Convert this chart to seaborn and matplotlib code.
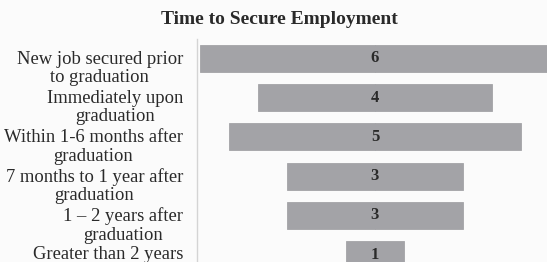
import matplotlib
matplotlib.use("Agg")
import matplotlib.pyplot as plt
import matplotlib.transforms as mtransforms
import seaborn as sns
import pandas as pd

categories = [
    "New job secured prior\nto graduation",
    "Immediately upon\ngraduation",
    "Within 1-6 months after\ngraduation",
    "7 months to 1 year after\ngraduation",
    "1 \u2013 2 years after\ngraduation",
    "Greater than 2 years",
]
values = [6, 4, 5, 3, 3, 1]
title = "Time to Secure Employment"

sns.set_theme(style="white")
plt.rcParams["font.family"] = ["Liberation Serif", "DejaVu Serif"]

bar_color = "#a3a3a7"
text_color = "#2a2a2a"
bg = "#fbfbfb"

df = pd.DataFrame({"cat": categories, "v": values})
df["right"] = df["v"] / 2
df["left"] = -df["v"] / 2

fig = plt.figure(figsize=(5.47, 2.62), dpi=100, facecolor=bg)
ax = fig.add_axes([0.360, -0.047, 0.651, 0.899])
ax.set_facecolor(bg)

for col in ["right", "left"]:
    sns.barplot(data=df, x=col, y="cat", orient="h", color=bar_color,
                width=0.69, saturation=1, linewidth=0.6, edgecolor=bar_color,
                ax=ax)

ax.set_xlim(-3.05, 3.05)
ax.set_ylim(5.5, -0.5)
ax.set_xlabel("")
ax.set_ylabel("")
ax.set_xticks([])
for s in ["top", "right", "bottom"]:
    ax.spines[s].set_visible(False)
ax.spines["left"].set_color("#d4d4d4")
ax.spines["left"].set_linewidth(1.0)
ax.tick_params(axis="y", length=0, pad=10, labelsize=13.4, labelcolor=text_color)

for i, lab in enumerate(ax.get_yticklabels()):
    lab.set_multialignment("center")
    lab.set_linespacing(1.1)
    shift = -7.5 if "\n" in lab.get_text() else 2.5
    off = mtransforms.ScaledTranslation(0, shift / 100, fig.dpi_scale_trans)
    lab.set_transform(lab.get_transform() + off)

for i, v in enumerate(values):
    ax.text(0, i, str(v), ha="center", va="center", fontsize=12,
            fontweight="bold", color=text_color)

fig.text(279 / 547, 1 - 19 / 262, title, ha="center", va="center",
         fontsize=14, fontweight="bold", color=text_color)

fig.savefig("out.png", dpi=100, facecolor=bg)
